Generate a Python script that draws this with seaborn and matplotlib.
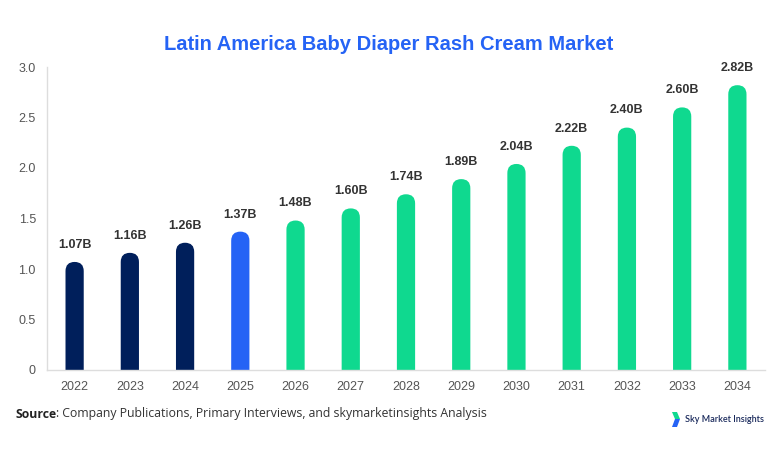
import matplotlib
matplotlib.use("Agg")
import matplotlib.pyplot as plt
import seaborn as sns
import pandas as pd
from matplotlib.patches import FancyBboxPatch, Polygon

years = ["2022", "2023", "2024", "2025", "2026", "2027", "2028", "2029", "2030", "2031", "2032", "2033", "2034"]
values = [1.07, 1.16, 1.26, 1.37, 1.48, 1.60, 1.74, 1.89, 2.04, 2.22, 2.40, 2.60, 2.82]
labels = ["1.07B", "1.16B", "1.26B", "1.37B", "1.48B", "1.60B", "1.74B", "1.89B", "2.04B", "2.22B", "2.40B", "2.60B", "2.82B"]
NAVY, BLUE, GREEN = "#001F5B", "#2563F5", "#0FD98F"
colors = [NAVY] * 3 + [BLUE] + [GREEN] * 9

df = pd.DataFrame({"year": years, "value": values})

sns.set_theme(style="white")
plt.rcParams["font.family"] = ["Liberation Sans", "DejaVu Sans"]

fig = plt.figure(figsize=(7.82, 4.54), dpi=100)
ax = fig.add_axes([47 / 782, 1 - 370 / 454, (765 - 47) / 782, (370 - 67) / 454])

sns.barplot(data=df, x="year", y="value", hue="year", palette=colors, legend=False,
            width=0.33, ax=ax, saturation=1)
ax.set_ylim(0, 3.0)
ax.set_xlim(-0.5, len(years) - 0.5)
ax.set_yticks([0, 0.5, 1.0, 1.5, 2.0, 2.5, 3.0])
ax.set_yticklabels(["0", "0.5", "1.0", "1.5", "2.0", "2.5", "3.0"])
ax.set_xlabel("")
ax.set_ylabel("")
ax.tick_params(axis="both", labelsize=9, colors="#555555", length=0, pad=8)
for s in ["top", "right"]:
    ax.spines[s].set_visible(False)
for s in ["left", "bottom"]:
    ax.spines[s].set_color("#DDDDDD")
    ax.spines[s].set_linewidth(1)

# rounded tops
fig.canvas.draw()
x0 = ax.transData.transform((0, 0))
x1 = ax.transData.transform((1, 1))
px_x = x1[0] - x0[0]
px_y = x1[1] - x0[1]
aspect = px_x / px_y
patches = list(ax.patches)
for i, p in enumerate(patches):
    x, w, h = p.get_x(), p.get_width(), p.get_height()
    c = p.get_facecolor()
    p.remove()
    r = w / 2
    ry = r * aspect
    fb = FancyBboxPatch((x, -ry), w, h + ry,
                        boxstyle=f"round,pad=0,rounding_size={r}",
                        mutation_aspect=aspect, facecolor=c, edgecolor="none",
                        clip_on=True, zorder=2)
    ax.add_patch(fb)
    ax.annotate(labels[i], (x + w / 2, h), xytext=(0, 8),
                textcoords="offset points", ha="center", va="bottom",
                fontsize=9, fontweight="bold", color="#333333")

fig.text(0.497, 1 - 45 / 454, "Latin America Baby Diaper Rash Cream Market",
         ha="center", va="center", fontsize=14.5, fontweight="bold", color="#2563F5")

src = fig.text(15 / 782, 1 - 414 / 454, "Source", ha="left", va="center",
               fontsize=8.8, fontweight="bold", color="#222222",
               family=["Open Sans", "DejaVu Sans"])
fig.canvas.draw()
bb = src.get_window_extent(renderer=fig.canvas.get_renderer())
fig.text(bb.x1 / 782, 1 - 414 / 454, ": Company Publications, Primary Interviews, and skymarketinsights Analysis",
         ha="left", va="center", fontsize=8.8, color="#333333",
         family=["Open Sans", "DejaVu Sans"])

# logo
W, H = 782, 454
def fp(pts):
    return [(px / W, 1 - py / H) for px, py in pts]
fig.patches.append(Polygon(fp([(672, 412), (677, 412), (680, 419), (675, 419)]),
                           closed=True, transform=fig.transFigure, facecolor=GREEN, edgecolor="none"))
fig.patches.append(Polygon(fp([(675, 419), (680, 419), (677, 427), (672, 427)]),
                           closed=True, transform=fig.transFigure, facecolor=BLUE, edgecolor="none"))
fig.text(685 / 782, 1 - 420 / 454, "Sky Market Insights", ha="left", va="center",
         fontsize=6.5, color="#1A2A5C", fontweight="semibold",
         family=["Lato", "DejaVu Sans"])

fig.savefig("out.png", dpi=100)
